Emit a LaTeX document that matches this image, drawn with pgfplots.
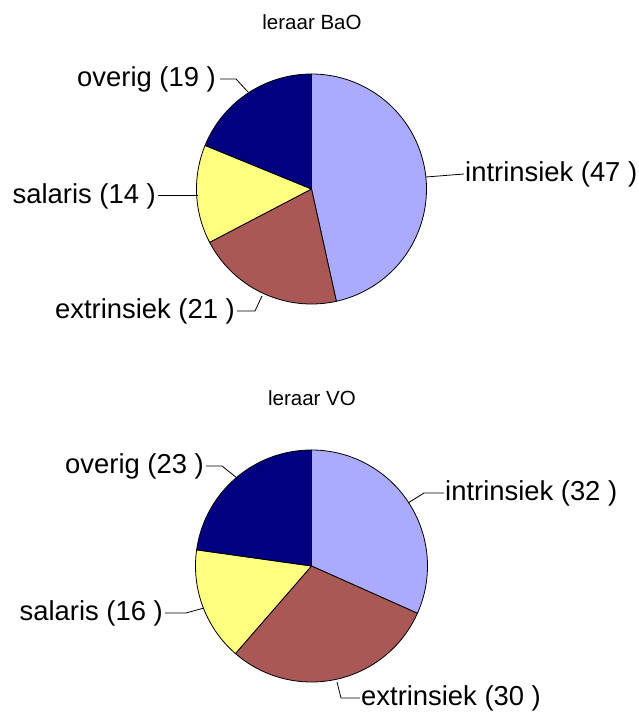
\documentclass[border=0pt]{standalone}
\usepackage{fontspec}
\setmainfont{Liberation Sans}
\usepackage{pgfplots}
\pgfplotsset{compat=1.18}

\definecolor{cIntr}{RGB}{170,170,255}
\definecolor{cExtr}{RGB}{170,88,85}
\definecolor{cSal}{RGB}{255,255,128}
\definecolor{cOver}{RGB}{0,0,128}

% one wedge: #1 colour, #2 cx, #3 cy, #4 r, #5 start angle, #6 end angle (end<start, clockwise)
\newcommand{\pieslice}[6]{%
  \addplot[fill=#1, draw=black, line width=0.8pt, domain=#6:#5, samples=80, variable=\t]
    ({#2+#4*cos(\t)},{#3+#4*sin(\t)}) -- (axis cs:#2,#3) -- cycle;
}

\newcommand{\lab}{\fontsize{27.4}{30}\selectfont}
\newcommand{\ttl}{\fontsize{20.5}{24}\selectfont}

\begin{document}
\begin{tikzpicture}
\begin{axis}[
  name=ax,
  width=638pt, height=713pt, scale only axis,
  xmin=0, xmax=638, ymin=0, ymax=713,
  hide axis, clip=false,
]
% leraar BaO: intrinsiek 47, extrinsiek 21, salaris 14, overig 19
\pgfmathsetmacro{\tot}{47+21+14+19}
\pgfmathsetmacro{\aA}{90}
\pgfmathsetmacro{\aB}{\aA-47/\tot*360}
\pgfmathsetmacro{\aC}{\aB-21/\tot*360}
\pgfmathsetmacro{\aD}{\aC-14/\tot*360}
\pgfmathsetmacro{\aE}{\aD-19/\tot*360}
\pieslice{cIntr}{311.5}{524}{115}{\aA}{\aB}
\pieslice{cExtr}{311.5}{524}{115}{\aB}{\aC}
\pieslice{cSal}{311.5}{524}{115}{\aC}{\aD}
\pieslice{cOver}{311.5}{524}{115}{\aD}{\aE}

\addplot[black, line width=0.8pt] coordinates {(220,634) (236,634) (248,621)};
\addplot[black, line width=0.8pt] coordinates {(426,536) (464,539)};
\addplot[black, line width=0.8pt] coordinates {(158,518) (198,518)};
\addplot[black, line width=0.8pt] coordinates {(237,402) (255,402) (262,417)};

\node[font=\ttl] at (axis cs:312,691) {leraar BaO};
\node[font=\lab, anchor=east, inner sep=0pt] at (axis cs:216,634) {overig (19 )};
\node[font=\lab, anchor=west, inner sep=0pt] at (axis cs:465,539) {intrinsiek (47 )};
\node[font=\lab, anchor=east, inner sep=0pt] at (axis cs:156,517) {salaris (14 )};
\node[font=\lab, anchor=east, inner sep=0pt] at (axis cs:235,402) {extrinsiek (21 )};

% leraar VO: intrinsiek 32, extrinsiek 30, salaris 16, overig 23
\pgfmathsetmacro{\totb}{32+30+16+23}
\pgfmathsetmacro{\bA}{90}
\pgfmathsetmacro{\bB}{\bA-32/\totb*360}
\pgfmathsetmacro{\bC}{\bB-30/\totb*360}
\pgfmathsetmacro{\bD}{\bC-16/\totb*360}
\pgfmathsetmacro{\bE}{\bD-23/\totb*360}
\pieslice{cIntr}{311.5}{147}{116}{\bA}{\bB}
\pieslice{cExtr}{311.5}{147}{116}{\bB}{\bC}
\pieslice{cSal}{311.5}{147}{116}{\bC}{\bD}
\pieslice{cOver}{311.5}{147}{116}{\bD}{\bE}

\addplot[black, line width=0.8pt] coordinates {(206,247) (222,247) (237,235)};
\addplot[black, line width=0.8pt] coordinates {(408,210) (424,220) (444,220)};
\addplot[black, line width=0.8pt] coordinates {(165,100) (186,100) (204,105)};
\addplot[black, line width=0.8pt] coordinates {(337,31) (341,15) (360,15)};

\node[font=\ttl] at (axis cs:312,315) {leraar VO};
\node[font=\lab, anchor=east, inner sep=0pt] at (axis cs:204,247) {overig (23 )};
\node[font=\lab, anchor=west, inner sep=0pt] at (axis cs:445,220) {intrinsiek (32 )};
\node[font=\lab, anchor=east, inner sep=0pt] at (axis cs:163,100) {salaris (16 )};
\node[font=\lab, anchor=west, inner sep=0pt] at (axis cs:361,15) {extrinsiek (30 )};
\end{axis}
\pgfresetboundingbox
\useasboundingbox (ax.south west) rectangle (ax.north east);
\end{tikzpicture}
\end{document}
